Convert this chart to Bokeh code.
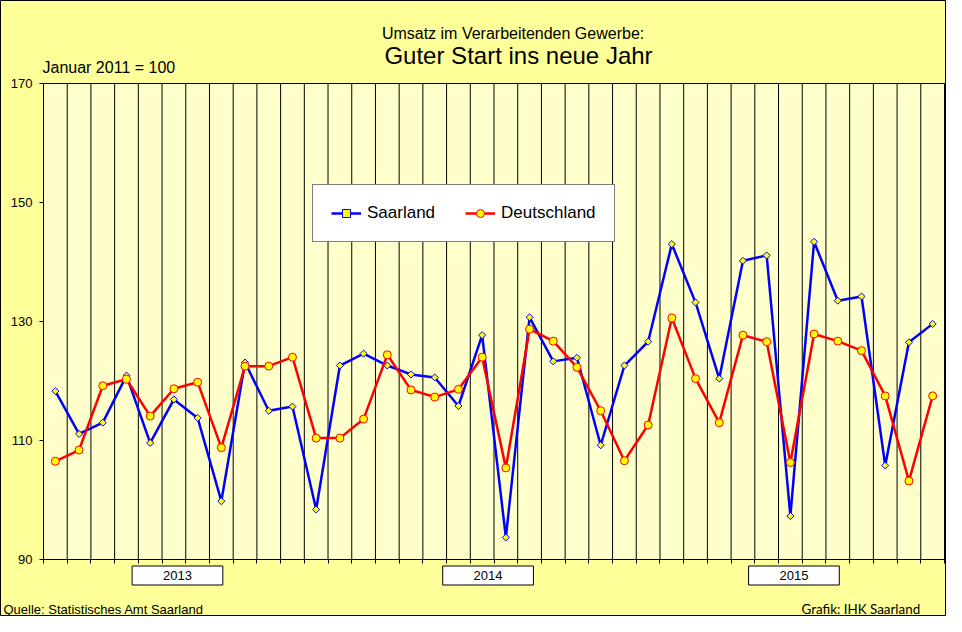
import math
from bokeh.plotting import figure
from bokeh.models import FixedTicker, Label, Legend, LegendItem, ColumnDataSource, Range1d
from bokeh.embed import file_html
from bokeh.resources import INLINE

# ---- data (index 100 = Januar 2011), monthly values ----
saarland = [118.3, 111.1, 113.0, 120.9, 109.6, 116.9, 113.8, 99.8, 123.1, 115.0,
            115.7, 98.4, 122.6, 124.6, 122.6, 121.1, 120.6, 115.8, 127.7, 93.7,
            130.7, 123.3, 123.9, 109.2, 122.6, 126.6, 143.0, 133.2, 120.4, 140.2,
            141.1, 97.3, 143.4, 133.5, 134.2, 105.8, 126.5, 129.6]
deutschland = [106.5, 108.4, 119.2, 120.3, 114.1, 118.7, 119.8, 108.8, 122.5, 122.5,
               124.0, 110.4, 110.4, 113.6, 124.4, 118.5, 117.3, 118.6, 124.0, 105.4,
               128.7, 126.7, 122.3, 115.0, 106.6, 112.6, 130.6, 120.4, 113.0, 127.7,
               126.6, 106.3, 127.9, 126.7, 125.1, 117.5, 103.2, 117.5]
year_labels = ["2013", "2014", "2015"]
y_ticks = [90, 110, 130, 150, 170]

# ---- layout ----
year_label_pos = [5.15, 18.25, 31.15]      # month-index position of the year boxes
W, H = 946, 616                              # canvas
PL, PR, PT, PB = 43, 944, 83, 559            # plot area in canvas pixels

n = len(saarland)
months = list(range(n))
boundaries = [k - 0.5 for k in range(n + 1)]
x0, x1 = -0.5, n - 0.5
y0, y1 = y_ticks[0], y_ticks[-1]
ux = (x1 - x0) / (PR - PL)
uy = (y1 - y0) / (PB - PT)

FONT = "Liberation Sans"

p = figure(width=W, height=H, output_backend="svg", toolbar_location=None,
           x_range=Range1d(x0 - PL * ux, x1 + (W - PR) * ux),
           y_range=Range1d(y0 - (H - PB) * uy, y1 + PT * uy),
           min_border=0, min_border_left=0, min_border_right=0,
           min_border_top=0, min_border_bottom=0)
p.background_fill_color = "#FFFF99"
p.border_fill_color = "#FFFF99"
p.outline_line_color = "black"
p.outline_line_width = 1
p.xgrid.visible = False
p.ygrid.visible = False

# plot area
p.quad(left=[x0], right=[x1], bottom=[y0], top=[y1],
       fill_color="#FFFFCC", line_color="black", line_width=1)
# vertical month separators
p.segment(x0=boundaries, y0=[y0] * len(boundaries), x1=boundaries, y1=[y1] * len(boundaries),
          line_color="black", line_width=1)

# x axis: month boundaries, drawn at y = 90 (tick marks only)
p.xaxis.fixed_location = y0
p.xaxis.bounds = (x0, x1)
p.xaxis.ticker = FixedTicker(ticks=boundaries)
p.xaxis.major_label_text_color = None
p.xaxis.major_label_text_font_size = "1px"
p.xaxis.major_tick_out = 4
p.xaxis.major_tick_in = 0
p.xaxis.minor_tick_out = 0
p.xaxis.minor_tick_in = 0
p.xaxis.axis_line_color = "black"
p.xaxis.major_tick_line_color = "black"

# y axis drawn at the left edge of the plot area
p.yaxis.fixed_location = x0
p.yaxis.bounds = (y0, y1)
p.yaxis.ticker = FixedTicker(ticks=y_ticks)
p.yaxis.major_tick_out = 4
p.yaxis.major_tick_in = 0
p.yaxis.minor_tick_out = 0
p.yaxis.minor_tick_in = 0
p.yaxis.axis_line_color = "black"
p.yaxis.major_tick_line_color = "black"
p.yaxis.major_label_text_font = FONT
p.yaxis.major_label_text_font_size = "13px"
p.yaxis.major_label_text_color = "black"
p.yaxis.major_label_standoff = 7

src = ColumnDataSource(dict(x=months, s=saarland, d=deutschland))

ls = p.line("x", "s", source=src, line_color="#0000FF", line_width=2.5)
ms = p.scatter("x", "s", source=src, marker="square", angle=math.pi / 4, size=5,
               fill_color="#FFFF00", line_color="#0000FF", line_width=1)
ld = p.line("x", "d", source=src, line_color="#FF0000", line_width=2.5)
md = p.scatter("x", "d", source=src, marker="circle", size=8,
               fill_color="#FFFF00", line_color="#FF0000", line_width=1)

legend = Legend(items=[LegendItem(label="Saarland", renderers=[ls, ms]),
                       LegendItem(label="Deutschland", renderers=[ld, md])],
                orientation="horizontal", location=(312, H - 242), margin=0,
                padding=18, spacing=30, glyph_width=30, glyph_height=20,
                label_height=20, label_standoff=6,
                label_text_font=FONT, label_text_font_size="17px",
                label_text_color="black",
                border_line_color="black", border_line_width=1,
                background_fill_color="white", background_fill_alpha=1.0)
p.add_layout(legend, "center")

# texts: x from the left, vertical middle given from the top of the canvas
def add_label(text, x, y_mid, size, align="left", font=FONT):
    p.add_layout(Label(text=text, x=x, y=H - y_mid, x_units="screen", y_units="screen",
                       text_font=font, text_font_size=size, text_align=align,
                       text_baseline="middle", text_color="black"))

add_label("Umsatz  im Verarbeitenden  Gewerbe:", 517, 32.5, "16px", align="center")
add_label("Guter Start ins neue Jahr", 518, 54.5, "24px", align="center")
add_label("Januar 2011 = 100", 42, 67, "16px")
add_label("Quelle:  Statistisches Amt Saarland", 3, 609, "13px")
add_label("Grafik: IHK Saarland", 801, 608, "13.4px", font="Lato")

pad = "\u00a0" * 8
for lab, pos in zip(year_labels, year_label_pos):
    p.add_layout(Label(text=pad + lab + pad, x=pos, y=H - 575, x_units="data", y_units="screen",
                       text_font=FONT, text_font_size="13px", text_align="center",
                       text_baseline="middle", text_color="black",
                       background_fill_color="white", border_line_color="black",
                       border_line_width=1, padding=2))

open("out.html", "w").write(file_html(p, INLINE))
